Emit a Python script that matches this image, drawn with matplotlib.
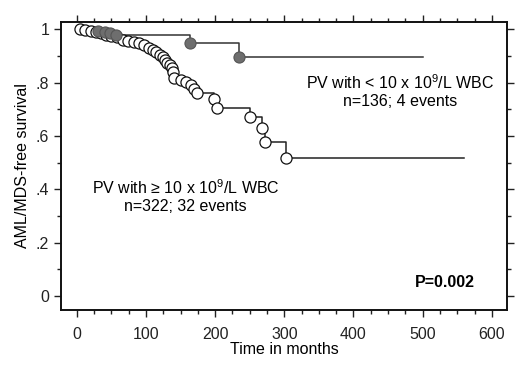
import matplotlib
matplotlib.use("Agg")
import matplotlib.pyplot as plt
from matplotlib.ticker import MultipleLocator

plt.rcParams['font.family'] = ['Liberation Sans', 'DejaVu Sans']
plt.rcParams['mathtext.fontset'] = 'custom'
plt.rcParams['mathtext.rm'] = 'Liberation Sans'

# PV with >= 10 x 10^9/L WBC (open circles)
t_hi = [5, 12, 20, 28, 35, 42, 50, 58, 66, 74, 82, 90, 97, 104, 110, 115, 120,
        124, 128, 131, 134, 137, 139, 141, 150, 158, 165, 170, 174, 198, 203,
        250, 268, 272, 303]
s_hi = [1.0, 0.997, 0.994, 0.99, 0.985, 0.98, 0.975, 0.97, 0.962, 0.958, 0.954,
        0.948, 0.94, 0.932, 0.922, 0.914, 0.905, 0.896, 0.886, 0.876, 0.866,
        0.855, 0.84, 0.818, 0.81, 0.803, 0.79, 0.776, 0.762, 0.74, 0.705,
        0.672, 0.63, 0.578, 0.518]
end_hi = 560

# PV with < 10 x 10^9/L WBC (filled circles)
t_lo = [30, 40, 48, 56, 163, 235]
s_lo = [0.993, 0.99, 0.985, 0.98, 0.95, 0.897]
end_lo = 500

yticks = [0, 0.2, 0.4, 0.6, 0.8, 1]
ylabels = ["0", ".2", ".4", ".6", ".8", "1"]

fig = plt.figure(figsize=(5.2, 3.7), dpi=100)
ax = fig.add_axes([0.1173, 0.1622, 0.8577, 0.7783])

# step curves
ax.step([0] + t_lo + [end_lo], [1.0] + s_lo + [s_lo[-1]], where="post",
        color="#333333", lw=1.1, zorder=2)
ax.step([0] + t_hi + [end_hi], [1.0] + s_hi + [s_hi[-1]], where="post",
        color="#222222", lw=1.1, zorder=2)

ax.plot(t_hi, s_hi, "o", ms=8, mfc="white", mec="#111111", mew=0.9, zorder=3)
ax.plot(t_lo, s_lo, "o", ms=8, mfc="#6e6e6e", mec="#555555", mew=0.8, zorder=4)

ax.set_xlim(-23, 622)
ax.set_ylim(-0.0525, 1.028)
ax.set_xticks(range(0, 601, 100))
ax.xaxis.set_minor_locator(MultipleLocator(25))
ax.set_yticks(yticks)
ax.set_yticklabels(ylabels)
ax.yaxis.set_minor_locator(MultipleLocator(0.1))

ax.tick_params(which="both", direction="out", top=True, right=True,
               labelsize=11.5, colors="#222222", width=1)
ax.tick_params(which="major", length=5)
ax.tick_params(which="minor", length=3)
ax.tick_params(axis="x", pad=7)
for s in ax.spines.values():
    s.set_linewidth(1.4)
    s.set_color("#111111")

ax.set_ylabel("AML/MDS-free survival", fontsize=11.5, labelpad=4)
ax.set_xlabel("Time in months", fontsize=11.5, labelpad=0)

ax.text(467, 0.769, "PV with < 10 x 10$^9$/L WBC\nn=136; 4 events",
        ha="center", va="center", fontsize=11.5, linespacing=1.2)
ax.text(157, 0.375, "PV with \u2265 10 x 10$^9$/L WBC\nn=322; 32 events",
        ha="center", va="center", fontsize=11.5, linespacing=1.2)
ax.text(532, 0.049, "P=0.002", ha="center", va="center", fontsize=11.5,
        fontweight="bold")

fig.savefig("out.png", dpi=100)
